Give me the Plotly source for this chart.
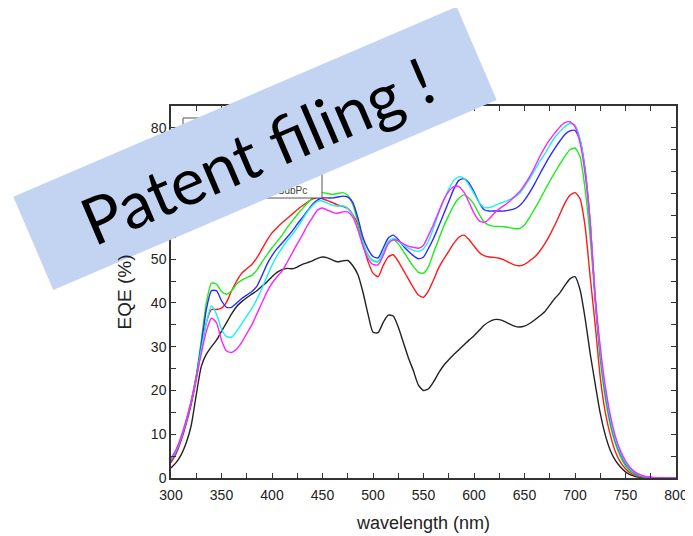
import plotly.graph_objects as go

# ---------------- data ----------------
wavelength = list(range(300, 805, 5))

eqe_black = [2.3, 3.5, 5.3, 8.0, 12.0, 19.0, 25.5, 28.3, 30.0, 31.5,
             33.5, 35.5, 37.5, 39.2, 40.3, 41.2, 42.0, 42.8, 43.8, 44.8,
             46.0, 47.0, 47.6, 47.9, 47.8, 48.2, 48.8, 49.2, 49.6, 50.2,
             50.5, 50.3, 49.8, 49.4, 49.6, 49.7, 48.5, 46.5, 42.5, 37.5,
             33.3, 33.2, 35.5, 37.2, 37.0, 34.5, 31.0, 27.5, 24.5, 21.2,
             20.0, 20.4, 22.0, 24.0, 25.7, 27.0, 28.2, 29.3, 30.4, 31.5,
             32.5, 33.7, 34.9, 35.7, 36.2, 36.2, 35.8, 35.2, 34.7, 34.5,
             34.7, 35.3, 36.1, 37.0, 38.0, 39.5, 41.0, 42.3, 44.0, 45.5,
             46.0, 43.0, 36.5, 28.5, 21.5, 14.8, 9.8, 6.3, 4.0, 2.5,
             1.4, 0.7, 0.35, 0.17, 0.08, 0.04, 0.02, 0.01, 0.0, 0.0, 0.0]

eqe_red = [3.5, 5.5, 8.5, 12.3, 16.8, 22.5, 29.5, 35.5, 38.5, 38.5,
           38.8, 40.2, 42.8, 45.0, 46.8, 47.8, 48.8, 50.3, 52.3, 54.3,
           56.0, 57.2, 58.3, 59.3, 60.3, 61.3, 62.2, 63.0, 63.7, 64.0,
           63.8, 63.4, 62.9, 62.4, 62.1, 61.6, 60.2, 58.0, 53.5, 49.5,
           46.8, 46.0, 48.5, 50.5, 51.0, 49.5, 47.5, 45.5, 43.5, 41.8,
           41.3, 42.8, 45.3, 48.0, 50.0, 51.8, 53.6, 55.0, 55.5, 54.5,
           53.0, 51.6, 50.8, 50.5, 50.4, 50.2, 49.8, 49.2, 48.7, 48.5,
           48.8, 49.6, 50.5, 51.8, 53.5, 55.5, 57.8, 60.3, 62.8, 64.6,
           65.2, 63.8, 57.5, 46.0, 35.0, 23.0, 15.0, 9.8, 6.0, 3.6,
           2.1, 1.1, 0.55, 0.27, 0.13, 0.06, 0.03, 0.01, 0.0, 0.0, 0.0]

eqe_green = [4.0, 6.0, 9.0, 12.8, 17.5, 23.5, 31.5, 40.0, 44.5, 44.3,
             42.6, 42.0, 42.8, 44.3, 45.2, 45.8, 46.3, 47.5, 49.3, 51.0,
             52.6, 54.0, 55.5, 57.2, 58.7, 60.2, 61.5, 62.8, 64.0, 64.8,
             65.2, 65.0, 64.8, 65.0, 65.2, 64.6, 62.5, 58.5, 54.0, 51.0,
             49.7, 49.5, 51.5, 53.6, 54.4, 53.5, 51.8, 50.0, 48.3, 47.0,
             46.8, 48.3, 51.5, 54.5, 57.5, 60.0, 62.3, 63.9, 64.7, 64.0,
             62.5, 60.3, 58.5, 57.8, 57.5, 57.5, 57.4, 57.2, 57.0, 57.0,
             57.8, 59.5, 61.5, 63.5, 65.7, 67.8, 69.8, 71.7, 73.5, 75.0,
             75.4, 73.4, 66.0, 55.0, 40.5, 27.0, 18.2, 12.0, 7.8, 4.8,
             2.8, 1.5, 0.8, 0.4, 0.2, 0.1, 0.05, 0.02, 0.0, 0.0, 0.0]

eqe_blue = [4.0, 6.0, 9.0, 12.8, 17.3, 23.0, 30.5, 38.5, 42.8, 42.8,
            40.5, 39.0, 39.0, 40.0, 41.0, 41.8, 42.6, 43.8, 46.2, 48.8,
            50.8, 52.4, 53.7, 55.0, 56.4, 58.0, 59.5, 61.0, 62.5, 63.5,
            64.0, 64.0, 64.0, 64.2, 64.4, 64.2, 63.0, 59.5, 55.0, 52.3,
            50.6, 50.3, 52.5, 54.8, 55.5, 54.5, 53.0, 51.8, 50.8, 50.1,
            50.5, 52.5, 54.8, 57.5, 60.3, 63.2, 66.0, 68.0, 68.4, 67.4,
            65.4, 63.0, 61.3, 61.0, 61.0, 61.0, 61.0, 61.2, 61.5, 62.2,
            63.5, 65.2, 67.2, 69.4, 71.5, 73.5, 75.3, 77.0, 78.5, 79.3,
            79.4, 77.2, 70.5, 58.5, 41.0, 28.5, 19.5, 13.0, 8.5, 5.5,
            3.3, 1.9, 1.0, 0.5, 0.25, 0.12, 0.06, 0.03, 0.01, 0.0, 0.0]

eqe_cyan = [4.2, 6.2, 9.2, 13.0, 17.5, 23.0, 29.5, 35.5, 39.3, 37.5,
            34.0, 32.3, 32.2, 33.5, 35.3, 37.0, 38.7, 40.8, 43.3, 46.0,
            48.6, 50.8, 52.6, 54.2, 55.6, 57.2, 59.0, 60.8, 62.2, 63.2,
            63.3, 62.8, 62.3, 62.1, 62.2, 61.6, 60.0, 57.0, 53.5, 51.0,
            49.6, 49.4, 51.5, 54.0, 54.8, 54.2, 53.2, 52.5, 52.0, 51.8,
            52.4, 54.2, 57.2, 60.5, 63.5, 66.0, 68.0, 68.8, 68.5, 67.0,
            65.0, 63.0, 61.8, 61.8, 62.2, 62.7, 63.1, 63.6, 64.1, 65.0,
            66.6, 68.3, 70.3, 72.3, 74.0, 76.0, 77.8, 79.2, 80.3, 81.0,
            80.6, 77.5, 70.0, 58.5, 41.2, 29.0, 20.0, 13.4, 8.8, 5.7,
            3.5, 2.0, 1.1, 0.55, 0.28, 0.14, 0.07, 0.03, 0.01, 0.0, 0.0]

eqe_magenta = [4.5, 6.5, 9.5, 13.2, 17.6, 23.0, 28.5, 33.5, 36.5, 35.5,
               31.5, 29.0, 28.7, 29.5, 31.0, 33.0, 35.0, 37.5, 40.0, 42.5,
               44.5, 46.0, 47.3, 49.3, 51.4, 53.5, 55.5, 57.7, 59.5, 61.2,
               61.7, 61.2, 60.7, 60.5, 60.8, 60.8, 59.6, 56.8, 53.0, 50.2,
               48.8, 48.7, 50.8, 53.5, 54.4, 54.2, 53.5, 53.0, 52.7, 52.5,
               53.2, 55.5, 58.0, 60.8, 63.5, 65.5, 66.6, 66.6, 65.3, 63.0,
               60.5, 58.8, 58.4, 59.2, 60.5, 61.5, 62.3, 63.2, 64.3, 65.4,
               67.0, 68.8, 71.0, 73.4, 75.5, 77.3, 78.8, 80.2, 81.2, 81.4,
               80.3, 76.5, 69.5, 58.5, 41.5, 30.0, 21.0, 14.3, 9.5, 6.2,
               3.9, 2.3, 1.3, 0.7, 0.35, 0.17, 0.08, 0.04, 0.02, 0.01, 0.0]

series_names = ["black", "red", "green", "blue", "cyan", "magenta"]
series_values = [eqe_black, eqe_red, eqe_green, eqe_blue, eqe_cyan, eqe_magenta]
series_colors = ["#222222", "#ff1a1a", "#1aee1a", "#2a2aff", "#19f0f0", "#ff22ff"]

x_title = "wavelength (nm)"
y_title = "EQE (%)"
legend_fragment = "SubPc"
banner_text = "Patent filing !"

# ---------------- figure ----------------
OFF = 8                       # page body margin of the html page
W, H = 693 - OFF, 536 - OFF
L, R, T, B = 171 - OFF, 17, 106 - OFF, 58
PW, PH = W - L - R, H - T - B
PLOT_LEFT, PLOT_BOTTOM = 171, 478   # page pixels


def pp(x, y):
    """page pixel -> paper coordinates"""
    return (x - PLOT_LEFT) / PW, (PLOT_BOTTOM - y) / PH


fig = go.Figure()
for name, vals, col in zip(series_names, series_values, series_colors):
    fig.add_trace(go.Scatter(
        x=wavelength, y=vals, mode="lines", name=name, showlegend=False,
        line=dict(color=col, width=1.4, shape="spline", smoothing=0.6),
        hoverinfo="skip"))

axis_common = dict(
    showgrid=False, zeroline=False, showline=True, linecolor="#333333",
    linewidth=1.5, mirror="ticks", ticks="inside", ticklen=5, tickwidth=1,
    tickcolor="#333333", tickfont=dict(size=14, color="#222222"),
)

fig.update_xaxes(range=[300, 800], tick0=300, dtick=50, ticklabelstandoff=3,
                 minor=dict(dtick=25, ticks="inside", ticklen=5, tickcolor="#333333"),
                 title=dict(text=x_title, font=dict(size=18, color="#222222"), standoff=15),
                 **axis_common)
fig.update_yaxes(range=[0, 85], tick0=0, dtick=10,
                 minor=dict(dtick=5, ticks="inside", ticklen=5, tickcolor="#333333"),
                 title=dict(text=y_title, font=dict(size=19, color="#222222"), standoff=14),
                 **axis_common)

# legend box (partly hidden)
lx0, ly0 = pp(183, 198)
lx1, ly1 = pp(322, 118)
fig.add_shape(type="rect", xref="paper", yref="paper", x0=lx0, y0=ly0, x1=lx1, y1=ly1,
              line=dict(color="#555555", width=1), fillcolor="white", layer="above")
tx0, ty0 = pp(277, 194)
tx1, ty1 = pp(308, 184)
fig.add_shape(type="rect", xref="paper", yref="paper", x0=tx0, y0=ty0, x1=tx1, y1=ty1,
              line=dict(width=0), fillcolor="rgba(0,0,0,0)", layer="above",
              label=dict(text=legend_fragment, font=dict(size=10, color="#444444",
                                                         family="Liberation Sans, Arial"),
                         textposition="middle center"))

# banner
corners = [pp(13.3, 196.7), pp(456.7, 6.7), pp(496.7, 100.0), pp(53.3, 290.0)]
path = "M " + " L ".join(f"{cx:.5f},{cy:.5f}" for cx, cy in corners) + " Z"
fig.add_shape(type="path", xref="paper", yref="paper", path=path,
              fillcolor="#c3d4f2", line=dict(width=0), layer="above")
bx, by = pp(256, 150)
fig.add_annotation(xref="paper", yref="paper", x=bx, y=by, text=banner_text,
                   showarrow=False, textangle=-23.2, xanchor="center", yanchor="middle",
                   font=dict(size=65, color="black", family="Lato, Open Sans, sans-serif"))

fig.update_layout(
    width=W, height=H, margin=dict(l=L, r=R, t=T, b=B, autoexpand=False),
    paper_bgcolor="white", plot_bgcolor="white",
    font=dict(family="Liberation Sans, Arial, sans-serif", color="#222222"),
    showlegend=False,
)

fig.write_html("out.html")
